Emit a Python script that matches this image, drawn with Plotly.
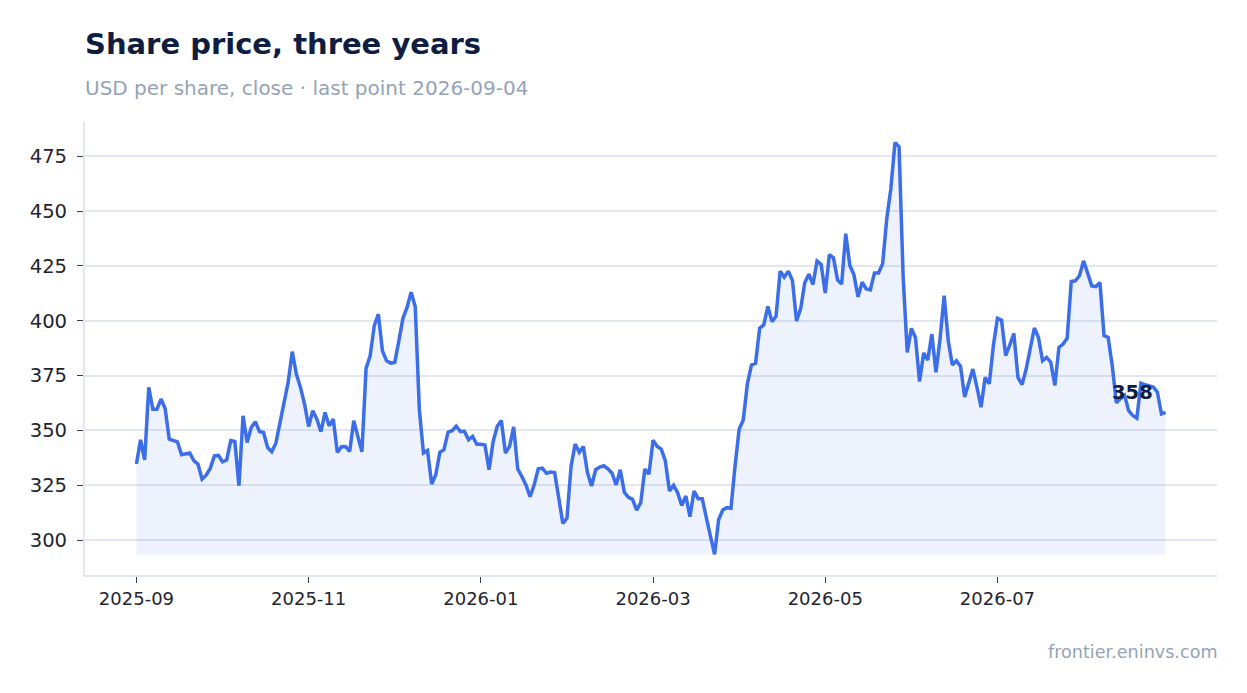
import plotly.graph_objs as go

# closing price per trading session
prices = [
    334.7, 345.7, 336.6, 369.6, 359.7, 359.7, 364.3, 360.0, 346.0, 345.4,
    344.8, 338.9, 339.1, 339.7, 336.2, 334.7, 327.8, 329.6, 332.7, 338.4,
    338.6, 335.7, 336.5, 345.4, 345.0, 324.8, 356.7, 344.5, 351.4, 354.0,
    349.5, 349.1, 342.2, 340.3, 344.2, 353.6, 361.2, 371.9, 385.9, 375.7,
    369.6, 362.0, 351.8, 359.0, 355.2, 349.4, 358.2, 352.1, 355.2, 340.0,
    342.6, 342.7, 340.4, 354.4, 347.3, 340.3, 378.3, 384.0, 397.7, 403.0,
    386.3, 381.8, 380.7, 381.0, 390.8, 401.1, 406.1, 413.0, 406.4, 359.5,
    339.7, 340.9, 325.6, 329.8, 340.0, 341.2, 349.2, 349.9, 351.9, 349.5,
    349.6, 345.8, 347.3, 343.7, 343.7, 343.4, 332.1, 345.0, 351.9, 354.5,
    339.7, 342.7, 351.6, 332.4, 329.0, 325.2, 319.8, 325.2, 332.5, 332.8,
    330.5, 331.0, 330.8, 319.8, 307.6, 309.9, 333.6, 343.8, 340.0, 342.7,
    330.8, 324.7, 332.1, 333.3, 333.9, 332.5, 330.5, 325.2, 332.1, 321.8,
    319.5, 318.6, 313.7, 317.1, 332.4, 330.1, 345.5, 342.7, 341.5, 336.1,
    322.4, 325.0, 321.6, 315.8, 320.1, 310.7, 322.4, 318.9, 318.9, 310.2,
    301.8, 293.5, 309.4, 313.7, 314.8, 314.5, 333.8, 350.6, 354.8, 371.1,
    379.8, 380.6, 396.6, 398.1, 406.5, 399.6, 402.0, 422.6, 419.9, 422.6,
    418.3, 399.9, 405.4, 417.3, 421.2, 416.5, 427.2, 425.7, 412.6, 430.1,
    428.7, 418.6, 416.7, 439.7, 425.2, 420.9, 410.9, 417.6, 414.5, 414.1,
    421.8, 421.8, 426.0, 446.5, 460.2, 481.2, 479.3, 420.0, 385.6, 396.5,
    392.4, 372.3, 385.3, 382.1, 393.9, 376.5, 391.7, 411.4, 390.9, 379.8,
    381.8, 379.2, 365.2, 372.0, 378.0, 369.7, 360.6, 374.2, 371.2, 388.6,
    401.1, 400.3, 384.1, 388.9, 394.2, 374.2, 370.9, 378.0, 386.7, 396.7,
    392.4, 381.8, 383.3, 381.1, 370.5, 387.9, 389.4, 392.0, 417.9, 418.2,
    420.5, 427.3, 421.7, 415.9, 415.6, 417.4, 393.2, 392.4, 379.5, 362.6,
    364.5, 366.0, 359.0, 356.8, 355.6, 371.5, 370.8, 370.2, 369.8, 367.5,
    357.5, 358.2,
]

# session index of each month tick
tick_pos = [0, 42, 84, 126, 168, 210]
tick_labels = ['2025-09', '2025-11', '2026-01', '2026-03', '2026-05', '2026-07']

title = 'Share price, three years'
subtitle = 'USD per share, close \u00b7 last point 2026-09-04'
source = 'frontier.eninvs.com'

FONT = 'DejaVu Sans'
blue = '#3b6ee8'
navy = '#0f1d40'
muted = '#94a3b8'
grid = '#e3e8f0'
ink = '#1f2430'

sessions = list(range(len(prices)))
low = min(prices)
high = max(prices)
# 5% padding on both axes
xpad = (len(prices) - 1) * 0.05
ypad = (high - low) * 0.05

# flat line at the lowest close, the area is filled down to it
Base = go.Scatter(
    x=sessions,
    y=[low] * len(prices),
    mode='lines',
    line=dict(width=0, color='rgba(59,110,232,0)'),
    hoverinfo='skip',
    showlegend=False
)

Price = go.Scatter(
    x=sessions,
    y=prices,
    mode='lines',
    fill='tonexty',
    fillcolor='rgba(59,110,232,0.09)',
    line=dict(color=blue, width=3.5),
    name='close',
    showlegend=False
)

fig = go.Figure(data=[Base, Price])

fig.update_layout(
    margin=dict(l=77, r=22, t=114, b=110),
    paper_bgcolor='white',
    plot_bgcolor='white',
    font=dict(family=FONT, color=ink, size=18),
    annotations=[
        # title and subtitle, offsets in px above the plot top
        dict(
            text='<b>' + title + '</b>', xref='paper', yref='paper', x=0, y=1,
            xanchor='left', yanchor='middle', xshift=-2, yshift=122 - 44,
            showarrow=False, font=dict(family=FONT, size=29, color=navy)
        ),
        dict(
            text=subtitle, xref='paper', yref='paper', x=0, y=1,
            xanchor='left', yanchor='middle', xshift=-2, yshift=122 - 88,
            showarrow=False, font=dict(family=FONT, size=20, color=muted)
        ),
        dict(
            text=source, xref='paper', yref='paper', x=1, y=0,
            xanchor='right', yanchor='middle', xshift=3, yshift=575 - 652,
            showarrow=False, font=dict(family=FONT, size=17.6, color=muted)
        ),
        # last close
        dict(
            text='<b>%d</b>' % round(prices[-1]), x=sessions[-1], y=prices[-1],
            xanchor='right', yanchor='bottom', xshift=-11, yshift=6,
            showarrow=False, font=dict(family=FONT, size=19.5, color=navy)
        ),
    ],
    xaxis=dict(
        range=[-xpad, sessions[-1] + xpad],
        tickvals=tick_pos,
        ticktext=tick_labels,
        tickfont=dict(size=18),
        ticks='outside',
        ticklen=6,
        tickcolor='#3a3f4b',
        showgrid=False,
        zeroline=False,
        showline=True,
        linecolor=grid,
        linewidth=2
    ),
    yaxis=dict(
        range=[low - ypad, high + ypad],
        dtick=25,
        tickfont=dict(size=19.6),
        ticks='outside',
        ticklen=6,
        tickcolor='#3a3f4b',
        ticklabelstandoff=6,
        gridcolor=grid,
        gridwidth=1.5,
        zeroline=False,
        showline=True,
        linecolor=grid,
        linewidth=2
    )
)

fig.write_html('out.html')
